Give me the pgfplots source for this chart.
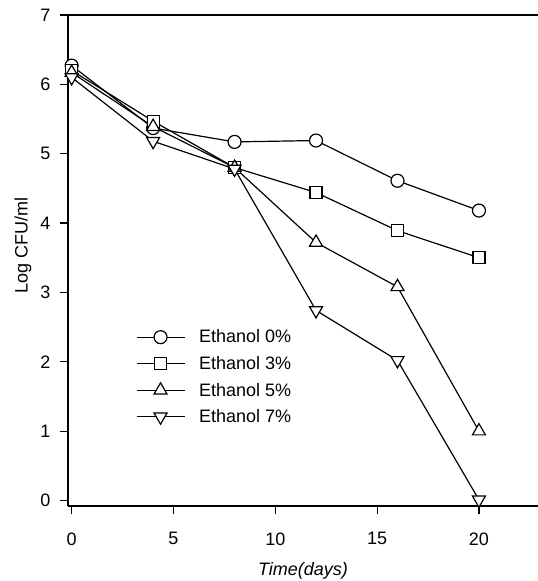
\documentclass[border=0pt]{standalone}
\usepackage{fontspec}
\setmainfont{Liberation Sans}
\usepackage{pgfplots}
\pgfplotsset{compat=1.18}
\newcommand{\chartfont}{\fontsize{18}{21}\selectfont}

\begin{document}
\begin{tikzpicture}
\path[use as bounding box] (-68pt,-75pt) rectangle (470pt,506pt);
\begin{axis}[
  at={(0pt,0pt)}, anchor=south west,
  width=470pt, height=491pt, scale only axis,
  xmin=-0.18, xmax=22.9, ymin=-0.08, ymax=7,
  axis x line*=box, axis y line*=left,
  xtick={0,5,10,15,20}, ytick={0,1,...,7},
  xtick pos=bottom,
  tick align=outside, major tick length=8pt,
  tick style={line width=1.2pt, black},
  axis line style={line width=1.5pt},
  clip=false,
  /pgf/number format/assume math mode=true,
  ticklabel style={font=\chartfont},
  xticklabel style={yshift=-15pt},
  yticklabel style={xshift=-6pt},
  xlabel={\itshape Time(days)}, ylabel={Log CFU/ml},
  label style={font=\chartfont},
  xlabel style={at={(axis description cs:0.5,-0.1324)}, anchor=center},
  ylabel style={at={(axis description cs:-0.0957,0.53)}, anchor=center},
  legend style={draw=none, fill=none, font=\chartfont,
    at={(axis cs:3.0,2.52)}, anchor=north west, row sep=8pt, column sep=12pt},
  legend cell align=left,
  legend image code/.code={\draw[mark repeat=2,mark phase=2,#1] plot coordinates {(0pt,0pt)(24pt,0pt)(48pt,0pt)};},
  every axis plot/.append style={black, line width=1.2pt},
]
\addplot[mark=*, mark size=6.5pt, mark options={fill=white}] coordinates {
  (0,6.27) (4,5.37) (8,5.17) (12,5.19) (16,4.61) (20,4.18)
};
\addlegendentry{Ethanol 0\%}
\addplot[mark=square*, mark size=6pt, mark options={fill=white}] coordinates {
  (0,6.20) (4,5.47) (8,4.80) (12,4.44) (16,3.89) (20,3.50)
};
\addlegendentry{Ethanol 3\%}
\addplot[mark=triangle*, mark size=7.5pt, mark options={fill=white}] coordinates {
  (0,6.17) (4,5.39) (8,4.80) (12,3.72) (16,3.08) (20,1.00)
};
\addlegendentry{Ethanol 5\%}
\addplot[mark=triangle*, mark size=7.5pt, mark options={fill=white, rotate=180}] coordinates {
  (0,6.10) (4,5.18) (8,4.78) (12,2.74) (16,2.02) (20,0.01)
};
\addlegendentry{Ethanol 7\%}
\end{axis}
\end{tikzpicture}
\end{document}
